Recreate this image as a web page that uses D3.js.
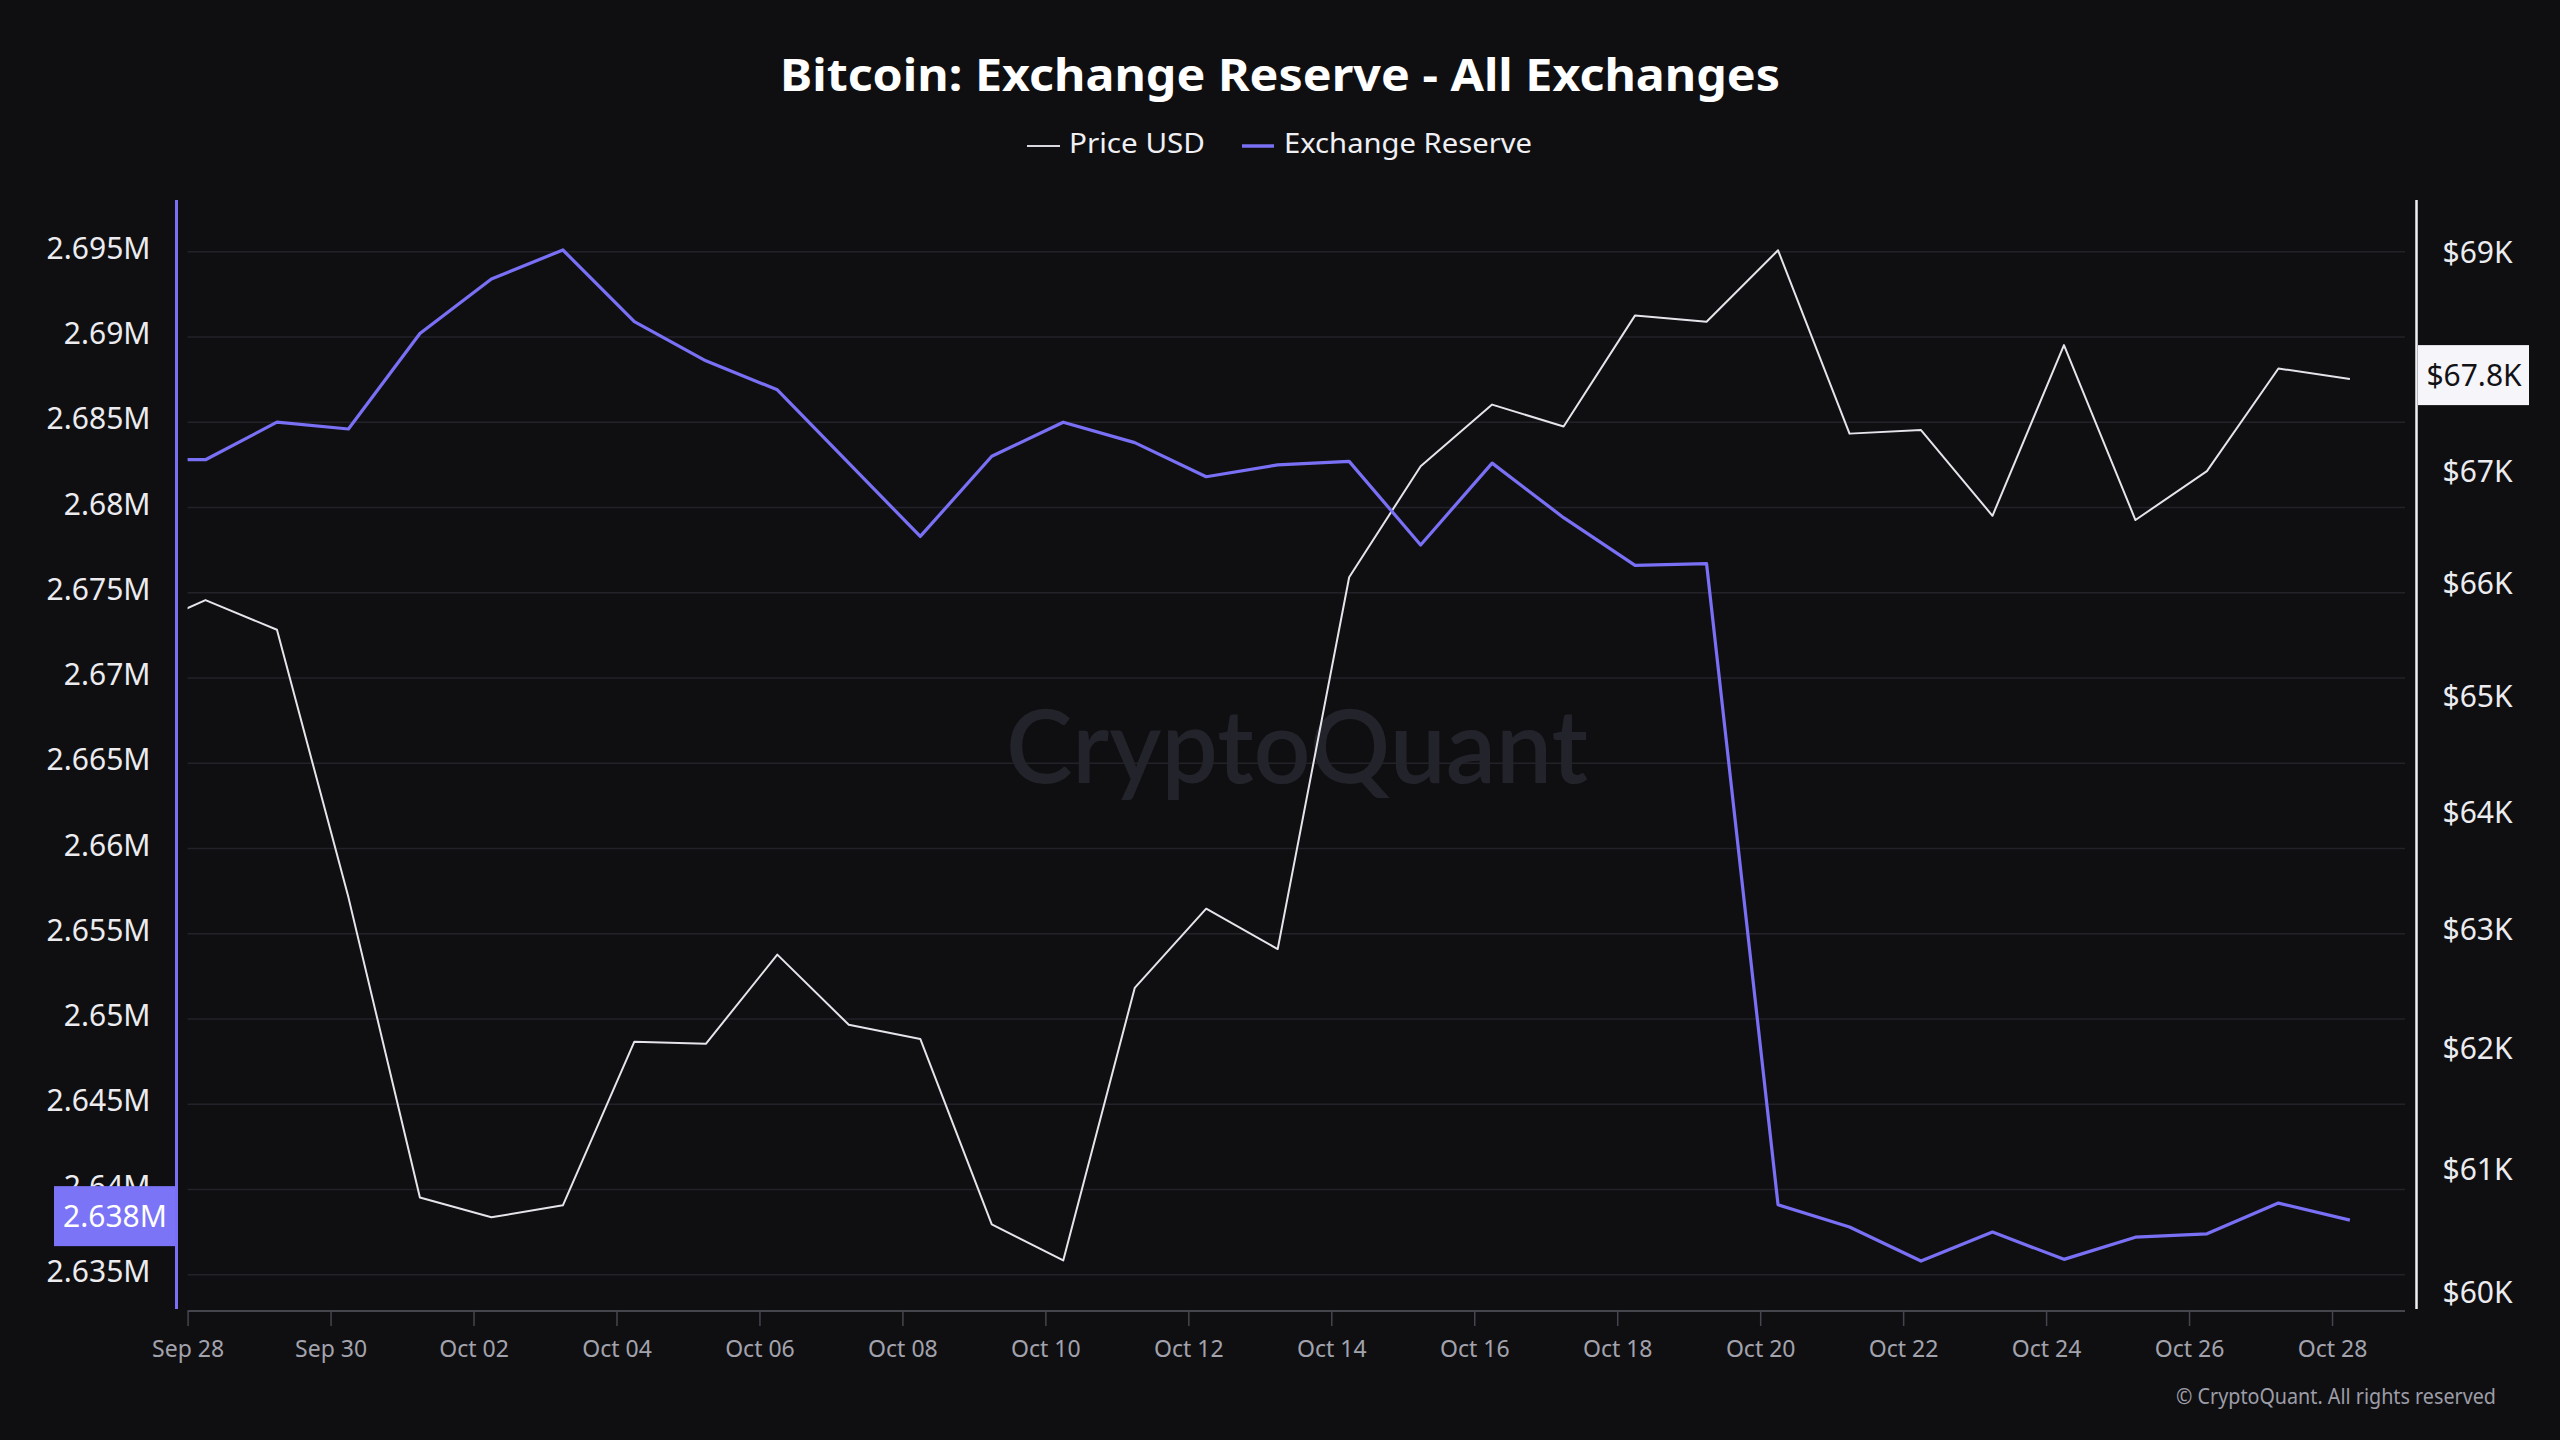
<!DOCTYPE html>
<html>
<head>
<meta charset="utf-8">
<script src="https://cdn.jsdelivr.net/npm/d3@7"></script>
<style>
  html, body { margin: 0; padding: 0; background: #0f0f12; }
  svg { display: block; }
</style>
</head>
<body>
<svg id="chart" width="2560" height="1440"></svg>
<script>
// ---------------- DATA ----------------
const dates = [
  "2024-09-27T06:00","2024-09-28T06:00","2024-09-29T06:00","2024-09-30T06:00",
  "2024-10-01T06:00","2024-10-02T06:00","2024-10-03T06:00","2024-10-04T06:00",
  "2024-10-05T06:00","2024-10-06T06:00","2024-10-07T06:00","2024-10-08T06:00",
  "2024-10-09T06:00","2024-10-10T06:00","2024-10-11T06:00","2024-10-12T06:00",
  "2024-10-13T06:00","2024-10-14T06:00","2024-10-15T06:00","2024-10-16T06:00",
  "2024-10-17T06:00","2024-10-18T06:00","2024-10-19T06:00","2024-10-20T06:00",
  "2024-10-21T06:00","2024-10-22T06:00","2024-10-23T06:00","2024-10-24T06:00",
  "2024-10-25T06:00","2024-10-26T06:00","2024-10-27T06:00","2024-10-28T06:00"
];
const exchangeReserve = [
  2682800, 2682800, 2685000, 2684600, 2690200, 2693400, 2695100, 2690900,
  2688600, 2686900, 2682600, 2678300, 2683000, 2685000, 2683800, 2681800,
  2682500, 2682700, 2677800, 2682600, 2679400, 2676600, 2676700, 2639100,
  2637800, 2635800, 2637500, 2635900, 2637200, 2637400, 2639200, 2638200
];
const priceUSD = [
  65560, 65845, 65583, 63267, 60767, 60605, 60703, 62052,
  62034, 62782, 62193, 62075, 60548, 60255, 62502, 63171,
  62829, 66047, 67040, 67597, 67399, 68412, 68353, 69013,
  67334, 67366, 66595, 68140, 66557, 66996, 67926, 67829
];
const leftTickValues = [2635000, 2640000, 2645000, 2650000, 2655000, 2660000, 2665000,
  2670000, 2675000, 2680000, 2685000, 2690000, 2695000];
const leftTickLabels = ["2.635M","2.64M","2.645M","2.65M","2.655M","2.66M","2.665M",
  "2.67M","2.675M","2.68M","2.685M","2.69M","2.695M"];
// $68K sits behind the current-price badge in the reference and is not visible
const rightTickValues = [60000, 61000, 62000, 63000, 64000, 65000, 66000, 67000, 69000];
const rightTickLabels = ["$60K","$61K","$62K","$63K","$64K","$65K","$66K","$67K","$69K"];
const xTickDates = ["2024-09-28","2024-09-30","2024-10-02","2024-10-04","2024-10-06",
  "2024-10-08","2024-10-10","2024-10-12","2024-10-14","2024-10-16","2024-10-18",
  "2024-10-20","2024-10-22","2024-10-24","2024-10-26","2024-10-28"];
const xTickLabels = ["Sep 28","Sep 30","Oct 02","Oct 04","Oct 06","Oct 08","Oct 10","Oct 12",
  "Oct 14","Oct 16","Oct 18","Oct 20","Oct 22","Oct 24","Oct 26","Oct 28"];
const xDomain = ["2024-09-28T00:00", "2024-10-29T00:00"];

// ---------------- SETUP ----------------
const FONT = "'Noto Sans', 'Open Sans', sans-serif";
const BG = "#0f0f12";
const PURPLE = "#7a70f6";
const PRICE_COLOR = "#e4e4ea";

const parseT = d3.timeParse("%Y-%m-%dT%H:%M");
const parseD = d3.timeParse("%Y-%m-%d");
const rows = dates.map((d, i) => ({ t: parseT(d), r: exchangeReserve[i], p: priceUSD[i] }));

const svg = d3.select("#chart");
svg.append("rect").attr("width", 2560).attr("height", 1440).attr("fill", BG);

const plot = { left: 176.5, right: 2416.5, top: 200, bottom: 1311 };
const x = d3.scaleTime().domain(xDomain.map(parseT)).range([187.6, 2403.5]);
const yL = d3.scaleLinear().domain([2635000, 2695000]).range([1274.7, 251.7]);
const yR = d3.scaleLog().domain([60000, 69000]).range([1292, 251.7]);

// grid lines
svg.append("g").selectAll("line").data(leftTickValues).join("line")
  .attr("x1", 187.6).attr("x2", 2405)
  .attr("y1", d => yL(d)).attr("y2", d => yL(d))
  .attr("stroke", "#222228").attr("stroke-width", 1.5);

// watermark
svg.append("text")
  .attr("x", 1297).attr("y", 783)
  .attr("text-anchor", "middle")
  .attr("font-family", "Lato, 'Noto Sans', sans-serif")
  .attr("font-weight", 600)
  .attr("font-size", 102)
  .attr("fill", "#23232b")
  .attr("textLength", 582).attr("lengthAdjust", "spacingAndGlyphs")
  .text("CryptoQuant");

// x axis
const xAxis = d3.axisBottom(x)
  .tickValues(xTickDates.map(parseD))
  .tickFormat((d, i) => xTickLabels[i])
  .tickSizeOuter(0).tickSizeInner(15).tickPadding(14);
const gx = svg.append("g").attr("transform", `translate(0,${plot.bottom})`).call(xAxis);
gx.select(".domain").attr("d", "M187.6,0H2405").attr("stroke", "#45454d").attr("stroke-width", 2);
gx.selectAll(".tick line").attr("stroke", "#45454d").attr("stroke-width", 1.5);
gx.selectAll(".tick text").attr("font-family", FONT).attr("font-size", 23)
  .attr("fill", "#a3a3ad").attr("dy", "0.75em");

// clip
svg.append("clipPath").attr("id", "clip").append("rect")
  .attr("x", 187.6).attr("y", plot.top).attr("width", 2405 - 187.6).attr("height", plot.bottom - plot.top);

// lines
const linePrice = d3.line().x(d => x(d.t)).y(d => yR(d.p));
const lineRes = d3.line().x(d => x(d.t)).y(d => yL(d.r));
const lg = svg.append("g").attr("clip-path", "url(#clip)");
lg.append("path").datum(rows).attr("d", linePrice)
  .attr("fill", "none").attr("stroke", PRICE_COLOR).attr("stroke-width", 2).attr("stroke-linejoin", "round");
lg.append("path").datum(rows).attr("d", lineRes)
  .attr("fill", "none").attr("stroke", PURPLE).attr("stroke-width", 3.2).attr("stroke-linejoin", "round");

// left axis
const yLAxis = d3.axisLeft(yL).tickValues(leftTickValues)
  .tickFormat((d, i) => leftTickLabels[i]).tickSize(0).tickPadding(26);
const gl = svg.append("g").attr("transform", `translate(${plot.left},0)`).call(yLAxis);
gl.select(".domain").attr("d", `M0,${plot.top}V${plot.bottom - 2}`).attr("stroke", PURPLE).attr("stroke-width", 3);
gl.selectAll(".tick text").attr("font-family", FONT).attr("font-size", 30)
  .attr("fill", "#ececf0").attr("dy", "0.22em");

// right axis
const yRAxis = d3.axisRight(yR).tickValues(rightTickValues)
  .tickFormat((d, i) => rightTickLabels[i]).tickSize(0).tickPadding(26);
const gr = svg.append("g").attr("transform", `translate(${plot.right},0)`).call(yRAxis);
gr.select(".domain").attr("d", `M0,${plot.top}V${plot.bottom - 2}`).attr("stroke", "#f0f0f4").attr("stroke-width", 2.5);
gr.selectAll(".tick text").attr("font-family", FONT).attr("font-size", 30)
  .attr("fill", "#ececf0").attr("dy", "0.35em");

// current value badges
const last = rows[rows.length - 1];
const resLabel = (last.r / 1e6).toFixed(3) + "M";
const priceLabel = "$" + (Math.floor(last.p / 100) / 10).toFixed(1) + "K";

const ly = yL(last.r) - 4;
svg.append("rect").attr("x", 54).attr("y", ly - 30).attr("width", 121).attr("height", 60).attr("fill", "#7b74f7");
svg.append("text").attr("x", 115).attr("y", ly).attr("dy", "0.35em").attr("text-anchor", "middle")
  .attr("font-family", FONT).attr("font-size", 30).attr("fill", "#ffffff").text(resLabel);

const ry = yR(last.p) - 4;
svg.append("rect").attr("x", 2418).attr("y", ry - 30).attr("width", 111).attr("height", 60).attr("fill", "#f5f5fa");
svg.append("text").attr("x", 2474).attr("y", ry).attr("dy", "0.35em").attr("text-anchor", "middle")
  .attr("font-family", FONT).attr("font-size", 30).attr("fill", "#121216").text(priceLabel);

// title
svg.append("text").attr("x", 1280).attr("y", 91).attr("text-anchor", "middle")
  .attr("font-family", FONT).attr("font-weight", 700).attr("font-size", 44)
  .attr("fill", "#ffffff")
  .attr("textLength", 1000).attr("lengthAdjust", "spacingAndGlyphs")
  .text("Bitcoin: Exchange Reserve - All Exchanges");

// legend
const legend = svg.append("g");
legend.append("line").attr("x1", 1027).attr("x2", 1060).attr("y1", 146).attr("y2", 146)
  .attr("stroke", "#d8d8de").attr("stroke-width", 2);
legend.append("text").attr("x", 1069).attr("y", 153).attr("font-family", FONT).attr("font-size", 27)
  .attr("fill", "#f0f0f4").attr("textLength", 136).attr("lengthAdjust", "spacingAndGlyphs").text("Price USD");
legend.append("line").attr("x1", 1242).attr("x2", 1274).attr("y1", 146).attr("y2", 146)
  .attr("stroke", PURPLE).attr("stroke-width", 3.5);
legend.append("text").attr("x", 1284).attr("y", 153).attr("font-family", FONT).attr("font-size", 27)
  .attr("fill", "#f0f0f4").attr("textLength", 248).attr("lengthAdjust", "spacingAndGlyphs").text("Exchange Reserve");

// copyright
svg.append("text").attr("x", 2496).attr("y", 1404).attr("text-anchor", "end")
  .attr("font-family", FONT).attr("font-size", 21).attr("fill", "#9d9da7")
  .attr("textLength", 320).attr("lengthAdjust", "spacingAndGlyphs")
  .text("© CryptoQuant. All rights reserved");
</script>
</body>
</html>
